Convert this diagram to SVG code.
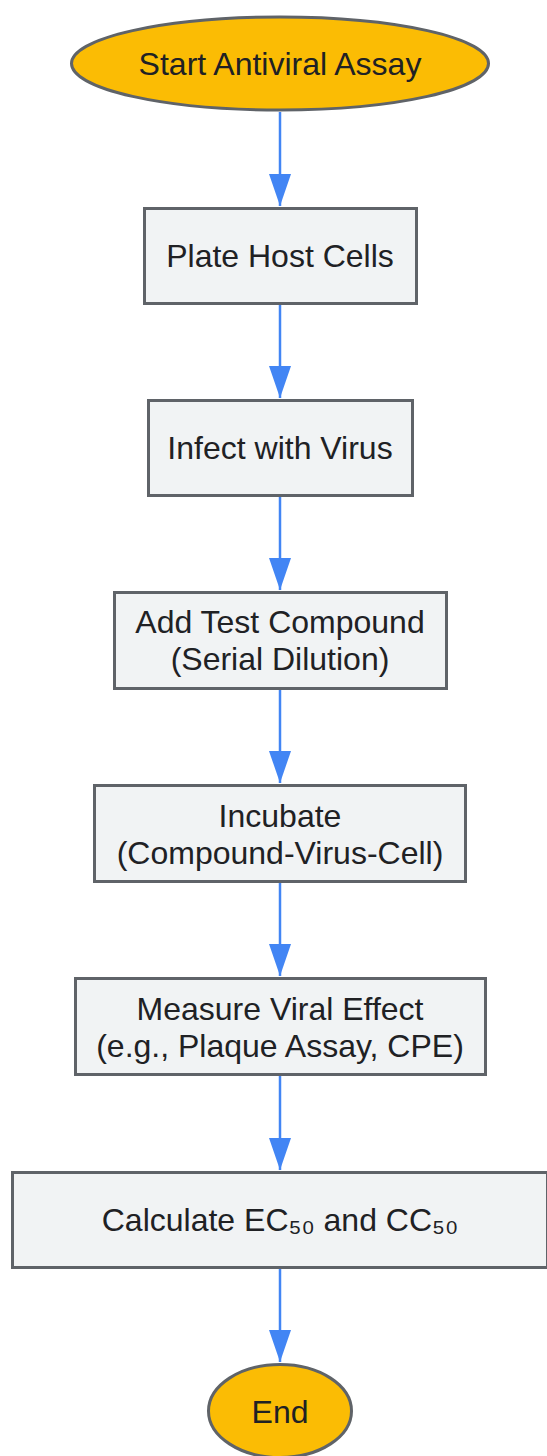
<svg xmlns="http://www.w3.org/2000/svg" width="547" height="1456" viewBox="0 0 547 1456">
  <style>
    .box { fill: #f1f3f4; stroke: #5f6368; stroke-width: 3; }
    .term { fill: #fbbc04; stroke: #5f6368; stroke-width: 3; }
    .lbl { font-family: "Liberation Sans", Arial, sans-serif; font-size: 32px; fill: #202124; text-anchor: middle; }
    .edge { stroke: #4285f4; stroke-width: 2.5; fill: none; marker-end: url(#arrow); }
  </style>
  <defs>
    <marker id="arrow" viewBox="0 0 32 22" refX="32" refY="11" markerWidth="32" markerHeight="22" markerUnits="userSpaceOnUse" orient="auto">
      <path d="M0,0 L32,11 L0,22 Z" fill="#4285f4"/>
    </marker>
  </defs>
  <rect width="547" height="1456" fill="#ffffff"/>

  <g id="connectors">
    <line class="edge" x1="280" y1="112" x2="280" y2="206"/>
    <line class="edge" x1="280" y1="304" x2="280" y2="398"/>
    <line class="edge" x1="280" y1="496" x2="280" y2="590"/>
    <line class="edge" x1="280" y1="689" x2="280" y2="783"/>
    <line class="edge" x1="280" y1="883" x2="280" y2="976"/>
    <line class="edge" x1="280" y1="1076" x2="280" y2="1170"/>
    <line class="edge" x1="280" y1="1268" x2="280" y2="1362"/>
  </g>

  <g id="start">
    <ellipse class="term" cx="280" cy="63.5" rx="208.5" ry="46.5"/>
    <text class="lbl" x="280" y="75">Start Antiviral Assay</text>
  </g>
  <g id="plate">
    <rect class="box" x="144.5" y="208.5" width="272" height="95"/>
    <text class="lbl" x="280" y="266.5">Plate Host Cells</text>
  </g>
  <g id="infect">
    <rect class="box" x="148.5" y="400.5" width="264" height="95"/>
    <text class="lbl" x="280" y="459">Infect with Virus</text>
  </g>
  <g id="compound">
    <rect class="box" x="114.5" y="592.5" width="332" height="96"/>
    <text class="lbl" x="280" y="632.5">Add Test Compound</text>
    <text class="lbl" x="280" y="670">(Serial Dilution)</text>
  </g>
  <g id="incubate">
    <rect class="box" x="94.5" y="785.5" width="371" height="96"/>
    <text class="lbl" x="280" y="826.5">Incubate</text>
    <text class="lbl" x="280" y="864">(Compound-Virus-Cell)</text>
  </g>
  <g id="measure">
    <rect class="box" x="75.5" y="978.5" width="410" height="96"/>
    <text class="lbl" x="280" y="1019.5">Measure Viral Effect</text>
    <text class="lbl" x="280" y="1057">(e.g., Plaque Assay, CPE)</text>
  </g>
  <g id="calculate">
    <rect class="box" x="12.5" y="1172.5" width="535" height="95"/>
    <text class="lbl" x="280" y="1231">Calculate EC₅₀ and CC₅₀</text>
  </g>
  <g id="end">
    <ellipse class="term" cx="280" cy="1411" rx="71.5" ry="46.5"/>
    <text class="lbl" x="280" y="1423">End</text>
  </g>
</svg>
